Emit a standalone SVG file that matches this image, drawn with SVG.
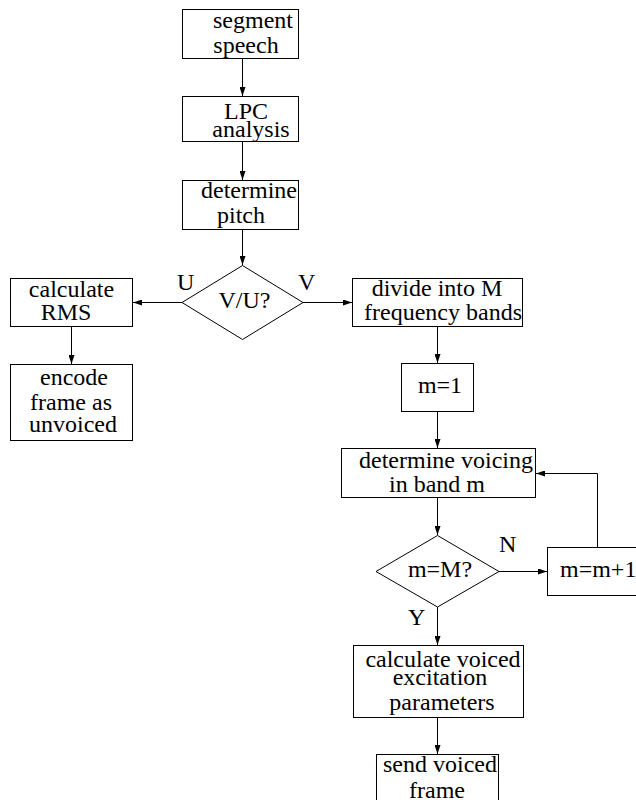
<svg xmlns="http://www.w3.org/2000/svg" width="636" height="800" viewBox="0 0 636 800">
  <defs>
    <marker id="arrow" viewBox="0 0 9 6" refX="9" refY="3" markerWidth="9" markerHeight="6" markerUnits="userSpaceOnUse" orient="auto">
      <path d="M0,0 L9,3 L0,6 Z" fill="#000"/>
    </marker>
  </defs>
  <style>
    .box { fill: #fff; stroke: #000; stroke-width: 1; }
    .conn { fill: none; stroke: #000; stroke-width: 1; }
    text { font-family: "Liberation Serif", "Times New Roman", serif; font-size: 24px; fill: #000; text-anchor: middle; }
    .lbl { text-anchor: start; }
  </style>
  <rect width="636" height="800" fill="#fff"/>

  <!-- connectors -->
  <g id="connectors">
    <line class="conn" x1="242.5" y1="58" x2="242.5" y2="96" marker-end="url(#arrow)"/>
    <line class="conn" x1="242.5" y1="142" x2="242.5" y2="180" marker-end="url(#arrow)"/>
    <line class="conn" x1="242.5" y1="229" x2="242.5" y2="265" marker-end="url(#arrow)"/>
    <line class="conn" x1="182" y1="302.5" x2="133" y2="302.5" marker-end="url(#arrow)"/>
    <line class="conn" x1="71.5" y1="327" x2="71.5" y2="364" marker-end="url(#arrow)"/>
    <line class="conn" x1="303" y1="302.5" x2="352" y2="302.5" marker-end="url(#arrow)"/>
    <line class="conn" x1="437.5" y1="327" x2="437.5" y2="363" marker-end="url(#arrow)"/>
    <line class="conn" x1="437.5" y1="412" x2="437.5" y2="448" marker-end="url(#arrow)"/>
    <line class="conn" x1="437.5" y1="498" x2="437.5" y2="535" marker-end="url(#arrow)"/>
    <line class="conn" x1="499" y1="571.5" x2="547" y2="571.5" marker-end="url(#arrow)"/>
    <polyline class="conn" points="597.5,547 597.5,473.5 536,473.5" marker-end="url(#arrow)"/>
    <line class="conn" x1="437.5" y1="607" x2="437.5" y2="645" marker-end="url(#arrow)"/>
    <line class="conn" x1="437.5" y1="717" x2="437.5" y2="754" marker-end="url(#arrow)"/>
  </g>

  <!-- branch labels -->
  <g id="labels">
    <text class="lbl" x="177" y="290">U</text>
    <text class="lbl" x="298" y="290">V</text>
    <text class="lbl" x="499" y="552">N</text>
    <text class="lbl" x="408" y="625">Y</text>
  </g>

  <g id="segment-speech">
    <rect class="box" x="182.5" y="9.5" width="116" height="49"/>
    <text x="253" y="28">segment</text>
    <text x="246" y="53">speech</text>
  </g>

  <g id="lpc-analysis">
    <rect class="box" x="182.5" y="96.5" width="116" height="45"/>
    <text x="246" y="119">LPC</text>
    <text x="251" y="137">analysis</text>
  </g>

  <g id="determine-pitch">
    <rect class="box" x="182.5" y="180.5" width="116" height="49"/>
    <text x="249" y="198">determine</text>
    <text x="241" y="223">pitch</text>
  </g>

  <g id="voicing-decision">
    <polygon class="box" points="242.5,265.5 303,302.5 242.5,339.5 182,302.5"/>
    <text x="244.5" y="308">V/U?</text>
  </g>

  <g id="calculate-rms">
    <rect class="box" x="10.5" y="278.5" width="122" height="48"/>
    <text x="71.5" y="297">calculate</text>
    <text x="66" y="320">RMS</text>
  </g>

  <g id="encode-unvoiced">
    <rect class="box" x="10.5" y="364.5" width="122" height="76"/>
    <text x="74" y="385">encode</text>
    <text x="71" y="410">frame as</text>
    <text x="73" y="432">unvoiced</text>
  </g>

  <g id="divide-bands">
    <rect class="box" x="352.5" y="278.5" width="170" height="48"/>
    <text x="437" y="296">divide into M</text>
    <text x="443" y="320">frequency bands</text>
  </g>

  <g id="m-init">
    <rect class="box" x="401.5" y="363.5" width="72" height="48"/>
    <text x="440" y="393">m=1</text>
  </g>

  <g id="determine-voicing">
    <rect class="box" x="341.5" y="448.5" width="194" height="49"/>
    <text x="446" y="468">determine voicing</text>
    <text x="437" y="492">in band m</text>
  </g>

  <g id="last-band-check">
    <polygon class="box" points="437.5,535.5 499,571.5 437.5,607 376,571.5"/>
    <text x="440" y="577">m=M?</text>
  </g>

  <g id="m-increment">
    <rect class="box" x="547.5" y="547.5" width="100" height="48"/>
    <text class="lbl" x="560" y="577">m=m+1</text>
  </g>

  <g id="voiced-excitation">
    <rect class="box" x="353.5" y="645.5" width="170" height="72"/>
    <text x="443" y="667">calculate voiced</text>
    <text x="440" y="685">excitation</text>
    <text x="442" y="710">parameters</text>
  </g>

  <g id="send-voiced">
    <rect class="box" x="376.5" y="754.5" width="122" height="60"/>
    <text x="440" y="772">send voiced</text>
    <text x="437" y="798">frame</text>
  </g>
</svg>
